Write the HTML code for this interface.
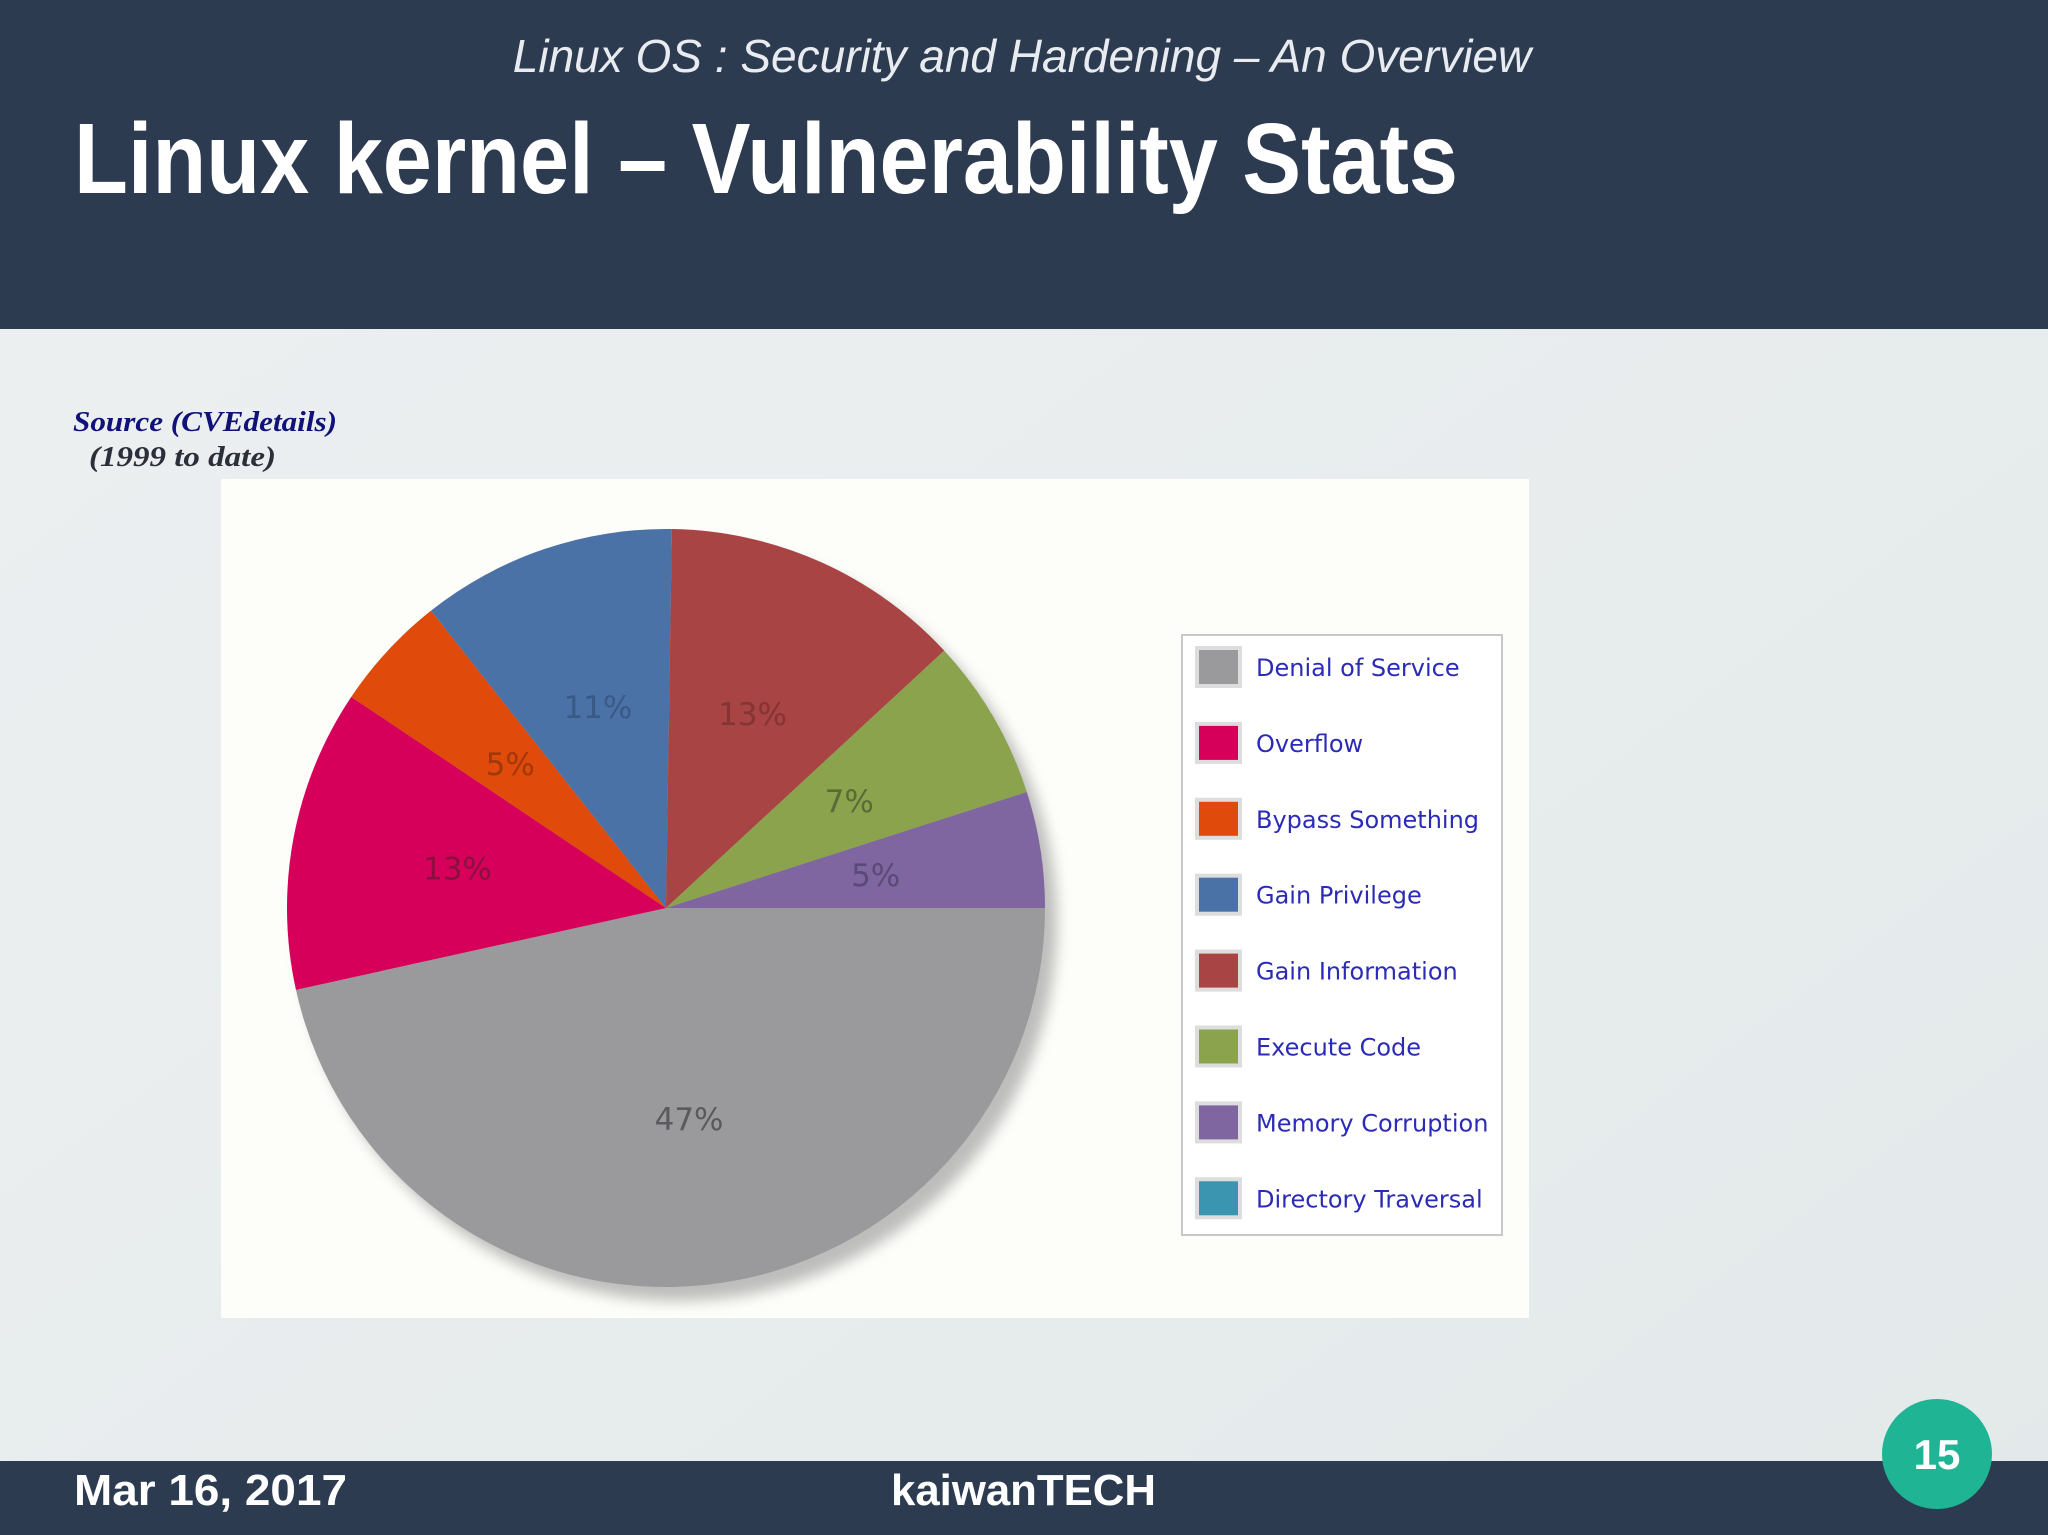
<!DOCTYPE html>
<html><head><meta charset="utf-8"><style>
html,body{margin:0;padding:0;background:#e9edef;}
svg{display:block;}
</style></head><body>
<svg width="2048" height="1535" viewBox="0 0 2048 1535" xmlns="http://www.w3.org/2000/svg">
<defs>
<filter id="sh" x="-20%" y="-20%" width="140%" height="140%"><feGaussianBlur stdDeviation="7"/></filter>
<linearGradient id="bg" x1="0" y1="0" x2="1" y2="1"><stop offset="0" stop-color="#edf0f1"/><stop offset="1" stop-color="#e3e9ea"/></linearGradient>
</defs>
<rect width="2048" height="1535" fill="url(#bg)"/>
<rect x="0" y="0" width="2048" height="329" fill="#2d3b50"/>
<text x="1022" y="72" text-anchor="middle" font-family="Liberation Sans, sans-serif" font-style="italic" font-size="46" fill="#e8ecf0">Linux OS : Security and Hardening – An Overview</text>
<text x="74" y="193" font-family="Liberation Sans, sans-serif" font-weight="bold" font-size="100" fill="#ffffff" textLength="1384" lengthAdjust="spacingAndGlyphs">Linux kernel – Vulnerability Stats</text>
<text x="73" y="431" font-family="Liberation Serif, serif" font-style="italic" font-weight="bold" font-size="29" fill="#10127a" textLength="264" lengthAdjust="spacingAndGlyphs">Source (CVEdetails)</text>
<text x="89" y="466" font-family="Liberation Serif, serif" font-style="italic" font-weight="bold" font-size="29" fill="#2a2f3a" textLength="187" lengthAdjust="spacingAndGlyphs">(1999 to date)</text>
<rect x="221" y="479" width="1308" height="839" fill="#fdfdf9"/>
<g id="pie"></g>
<g id="legend"></g>
<rect x="0" y="1461" width="2048" height="74" fill="#2d3b50"/>
<text x="74" y="1505" font-family="Liberation Sans, sans-serif" font-weight="bold" font-size="44" fill="#ffffff" textLength="273" lengthAdjust="spacingAndGlyphs">Mar 16, 2017</text>
<text x="891" y="1505" font-family="Liberation Sans, sans-serif" font-weight="bold" font-size="44" fill="#ffffff" textLength="265" lengthAdjust="spacingAndGlyphs">kaiwanTECH</text>
<circle cx="1937" cy="1454" r="55" fill="#1fb594"/>
<text x="1937" y="1469" text-anchor="middle" font-family="Liberation Sans, sans-serif" font-weight="bold" font-size="42" fill="#ffffff">15</text>
</svg>
<script>
const categories=["Denial of Service","Overflow","Bypass Something","Gain Privilege","Gain Information","Execute Code","Memory Corruption","Directory Traversal"];
const values=[47,13,5,11,13,7,5,0];
const labels=["47%","13%","5%","11%","13%","7%","5%",""];
const colors=["#9a999b","#d6005a","#e04a0a","#4a72a6","#a84444","#8aa34c","#8066a0","#3b94b0"];
const labelColors=["#5a5a5e","#8a1040","#a0380a","#3a5a86","#843434","#5a6a38","#5a4a78","#2a6a80"];
const NS="http://www.w3.org/2000/svg";
const cx=666,cy=908,r=379;
const total=values.reduce((a,b)=>a+b,0);
const angle=v=>v/total*Math.PI*2;
const pie=document.getElementById('pie');
const shadow=document.createElementNS(NS,'circle');


shadow.setAttribute('cx',cx+12);shadow.setAttribute('cy',cy+14);shadow.setAttribute('r',r);
shadow.setAttribute('fill','#888');shadow.setAttribute('opacity','0.55');shadow.setAttribute('filter','url(#sh)');
pie.appendChild(shadow);
let a0=0;
values.forEach((v,i)=>{
  const a1=a0+angle(v);
  if(v>0){
    const p=document.createElementNS(NS,'path');
    
    
    const x0=cx+r*Math.cos(a0),y0=cy+r*Math.sin(a0),x1=cx+r*Math.cos(a1),y1=cy+r*Math.sin(a1);
    p.setAttribute('d',`M${cx},${cy} L${x0},${y0} A${r},${r} 0 ${a1-a0>Math.PI?1:0} 1 ${x1},${y1} Z`);
    p.setAttribute('fill',colors[i]);
    pie.appendChild(p);
    const m=(a0+a1)/2,d=r*0.56;
    const t=document.createElementNS(NS,'text');
    
    
    t.setAttribute('x',cx+d*Math.cos(m));t.setAttribute('y',cy+d*Math.sin(m)+11);
    t.setAttribute('text-anchor','middle');t.setAttribute('font-family','DejaVu Sans, sans-serif');
    t.setAttribute('font-size','31');t.setAttribute('fill',labelColors[i]);
    t.textContent=labels[i];
    pie.appendChild(t);
  }
  a0=a1;
});
const lg=document.getElementById('legend');
const box=document.createElementNS(NS,'rect');


box.setAttribute('x',1182);box.setAttribute('y',635);box.setAttribute('width',320);box.setAttribute('height',600);
box.setAttribute('fill','#ffffff');box.setAttribute('stroke','#c8c8c8');box.setAttribute('stroke-width','2');
lg.appendChild(box);
categories.forEach((c,i)=>{
  const y=667+i*75.9;
  const s=document.createElementNS(NS,'rect');
  
  
  s.setAttribute('x',1197);s.setAttribute('y',y-19);s.setAttribute('width',43);s.setAttribute('height',38);
  s.setAttribute('fill',colors[i]);s.setAttribute('stroke','#dddddd');s.setAttribute('stroke-width','4');
  lg.appendChild(s);
  const t=document.createElementNS(NS,'text');
  
  
  t.setAttribute('x',1256);t.setAttribute('y',y+9);
  t.setAttribute('font-family','DejaVu Sans, sans-serif');t.setAttribute('font-size','24');t.setAttribute('fill','#2b2bb8');
  t.textContent=c;
  lg.appendChild(t);
});
</script>
</body></html>
